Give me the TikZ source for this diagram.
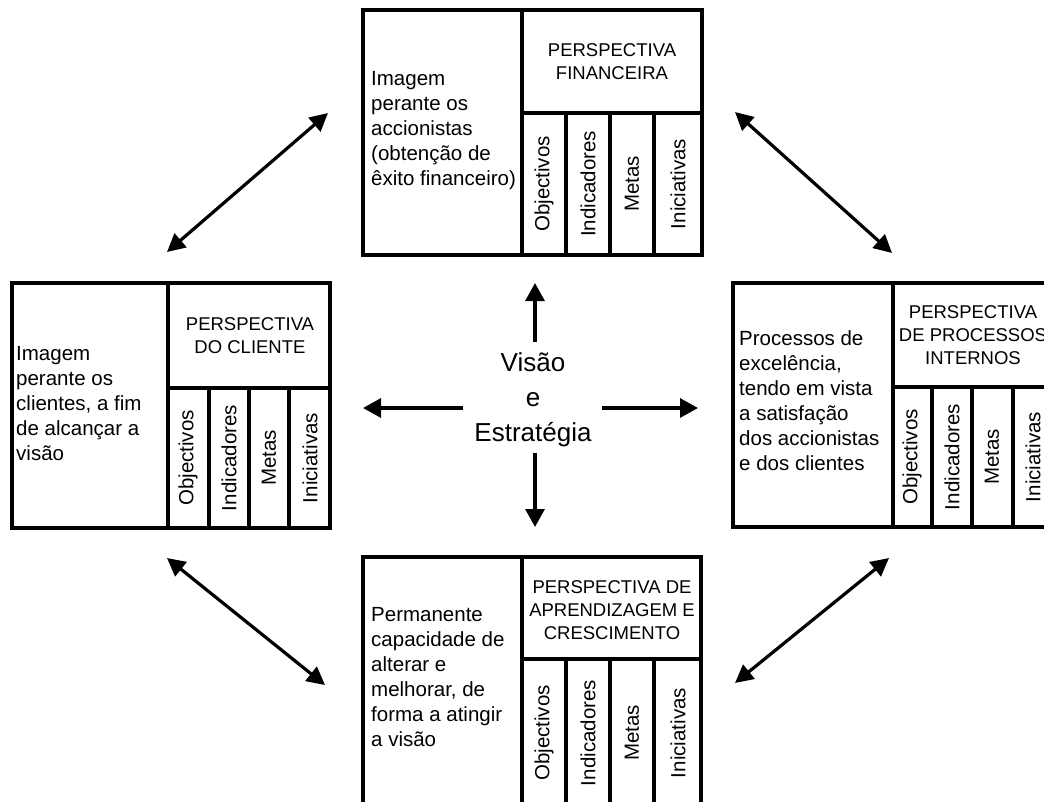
\documentclass[tikz,border=0pt]{standalone}
\usepackage{fontspec}
\setmainfont{Liberation Sans}
\usetikzlibrary{arrows.meta}

\begin{document}
\begin{tikzpicture}[x=1pt,y=-1pt,
  frame/.style={line width=3.8pt},
  sep/.style={line width=3.2pt},
  arr/.style={line width=3.2pt,-{Triangle[length=18pt,width=19pt]}},
  dblarr/.style={line width=3.2pt,{Triangle[length=18pt,width=18pt]}-{Triangle[length=18pt,width=18pt]}},
  desc/.style={anchor=west,align=left,inner sep=0pt,font=\fontsize{20.5}{25}\selectfont},
  head/.style={align=center,inner sep=0pt,font=\fontsize{18.5}{23}\selectfont},
  col/.style={rotate=90,inner sep=0pt,font=\fontsize{20.5}{25}\selectfont}]
\useasboundingbox (0,0) rectangle (1044,801);
\clip (0,0) rectangle (1044,801);

\draw[frame] (363,10) rectangle (702,255);
\draw[sep] (522,10) -- (522,255);
\draw[sep] (522,113) -- (702,113);
\foreach \x in {566,610,654} \draw[sep] (\x,113) -- (\x,255);
\node[desc] (fintxt) at (371,131) {Imagem\\perante os\\accionistas\\(obtenção de\\êxito financeiro)};
\node[head] (finhd) at (612,62) {PERSPECTIVA\\FINANCEIRA};
\foreach \x/\t [count=\i] in {544/Objectivos,588/Indicadores,632/Metas,678/Iniciativas}
  \node[col] (fin\i) at (\x,184) {\t};

\draw[frame] (12,283) rectangle (330,528);
\draw[sep] (168,283) -- (168,528);
\draw[sep] (168,388) -- (330,388);
\foreach \x in {209,249,289} \draw[sep] (\x,388) -- (\x,528);
\node[desc] (clitxt) at (16,404) {Imagem\\perante os\\clientes, a fim\\de alcançar a\\visão};
\node[head] (clihd) at (250,336) {PERSPECTIVA\\DO CLIENTE};
\foreach \x/\t [count=\i] in {188/Objectivos,229/Indicadores,269/Metas,310/Iniciativas}
  \node[col] (cli\i) at (\x,458) {\t};

\draw[frame] (733,283) rectangle (1053,527);
\draw[sep] (893,283) -- (893,527);
\draw[sep] (893,387) -- (1053,387);
\foreach \x in {932,972,1013} \draw[sep] (\x,387) -- (\x,527);
\node[desc] (proctxt) at (739,401) {Processos de\\excelência,\\tendo em vista\\a satisfação\\dos accionistas\\e dos clientes};
\node[head] (prochd) at (973,335) {PERSPECTIVA\\DE PROCESSOS\\INTERNOS};
\foreach \x/\t [count=\i] in {912/Objectivos,952/Indicadores,992/Metas,1033/Iniciativas}
  \node[col] (proc\i) at (\x,457) {\t};

\draw[frame] (363,557) rectangle (701,808);
\draw[sep] (522,557) -- (522,808);
\draw[sep] (522,659) -- (701,659);
\foreach \x in {566,610,654} \draw[sep] (\x,659) -- (\x,808);
\node[desc] (aprtxt) at (371,677) {Permanente\\capacidade de\\alterar e\\melhorar, de\\forma a atingir\\a visão};
\node[head] (aprhd) at (612,610) {PERSPECTIVA DE\\APRENDIZAGEM E\\CRESCIMENTO};
\foreach \x/\t [count=\i] in {544/Objectivos,588/Indicadores,632/Metas,678/Iniciativas}
  \node[col] (apr\i) at (\x,733) {\t};

\node[align=center,inner sep=0pt,font=\fontsize{26}{35}\selectfont] (vis) at (533,400) {Visão\\e\\Estratégia};
\coordinate (visN) at (535,342);
\coordinate (visS) at (535,453);
\coordinate (visW) at (463,408);
\coordinate (visE) at (602,408);
\coordinate (toN) at (535,283);
\coordinate (toS) at (535,527);
\coordinate (toW) at (363,408);
\coordinate (toE) at (698,408);
\draw[arr] (visN) -- (toN);
\draw[arr] (visS) -- (toS);
\draw[arr] (visW) -- (toW);
\draw[arr] (visE) -- (toE);

\coordinate (tlA) at (167,252);
\coordinate (tlB) at (328,113);
\coordinate (trA) at (735,112);
\coordinate (trB) at (892,253);
\coordinate (blA) at (167,558);
\coordinate (blB) at (325,685);
\coordinate (brA) at (735,683);
\coordinate (brB) at (889,558);
\draw[dblarr] (tlA) -- (tlB);
\draw[dblarr] (trA) -- (trB);
\draw[dblarr] (blA) -- (blB);
\draw[dblarr] (brA) -- (brB);
\end{tikzpicture}
\end{document}
